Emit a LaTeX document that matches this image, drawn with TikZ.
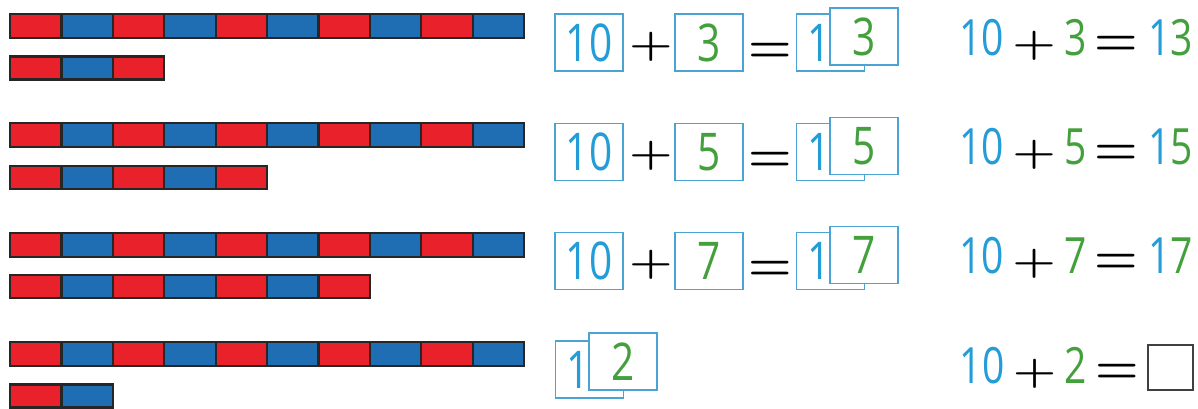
\documentclass[tikz,border=0pt]{standalone}
\usepackage[no-math]{fontspec}
\setmainfont{Open Sans}[FakeStretch=0.78]
\usetikzlibrary{positioning}
\definecolor{cubered}{HTML}{E8212B}
\definecolor{cubeblue}{HTML}{1F6EB4}
\definecolor{digitblue}{HTML}{239CD8}
\definecolor{digitgreen}{HTML}{43A03C}
\definecolor{boxline}{HTML}{4AA3D3}
\newcommand\tendigit[1]{\textcolor{digitblue}{#1}}
\newcommand\onedigit[1]{\textcolor{digitgreen}{#1}}
\newcommand\plusop{\scalebox{1}[0.78]{\boldmath$+$}}
\newcommand\eqop{{\boldmath$=$}}
\tikzset{
  cube/.style={draw=black!85, line width=1.1pt},
  odd1/.style={fill=cubered}, odd0/.style={fill=cubeblue},
  numbox/.style={draw=boxline, line width=0.7pt, fill=white, inner sep=0pt,
    minimum width=34pt, minimum height=28.5pt, font=\fontsize{26}{26}\selectfont},
  sign/.style={inner sep=0pt, anchor=base, font=\fontsize{25}{25}\selectfont},
  sum/.style={inner sep=0pt, anchor=base east, font=\fontsize{25}{25}\selectfont}
}
\begin{document}
\begin{tikzpicture}[x=0.5pt,y=-0.5pt]
\useasboundingbox (0,0) rectangle (1198,408);
% rods of ten and the loose cubes under them
\foreach \r/\n in {0/3,1/5,2/7,3/2}{
  \pgfmathsetmacro\y{14+109.3*\r}
  \foreach \k [evaluate=\k as \m using {int(mod(\k,2))}] in {1,...,10}
    \draw[cube,odd\m] ({10+51.4*(\k-1)},\y) rectangle ++(51.4,24);
  \foreach \k [evaluate=\k as \m using {int(mod(\k,2))}] in {1,...,\n}
    \draw[cube,odd\m] ({10+51.4*(\k-1)},\y+42.5) rectangle ++(51.4,23);
}
% card sums
\foreach \r/\n in {0/3,1/5,2/7}{
  \pgfmathsetmacro\y{14+109.3*\r}
  \node[numbox] (ten\r) at (589,\y+28.5) {\tendigit{10}};
  \node[sign] (plus\r) at (651,\y+42) {\plusop};
  \node[numbox] (ones\r) at (709,\y+28.5) {\onedigit{\n}};
  \node[sign] (eq\r) at (770,\y+48) {\eqop};
  \node[numbox] (back\r) at (830.5,\y+28.5) {\tendigit{1}\phantom{0}};
  \node[numbox, xshift=16.75pt, yshift=3pt] (front\r) at (back\r) {\onedigit{\n}};
  \node[sum] (sum\r) at (1193,\y+41) {\tendigit{10}\,\plusop\,\onedigit{\n}\hspace{4pt}\eqop\hspace{5pt}\tendigit{1}\onedigit{\n}};
}
% last row: left open
\node[numbox] (back3) at (589.5,369.4) {\tendigit{1}\phantom{0}};
\node[numbox, xshift=16.75pt, yshift=4pt] (front3) at (back3) {\onedigit{2}};
\node[draw=black!75, line width=0.8pt, minimum size=22.5pt, inner sep=0pt] (answer) at (1170.5,367.5) {};
\node[sum] (sum3) at (1139,383) {\tendigit{10}\,\plusop\,\onedigit{2}\hspace{4pt}\eqop};
\end{tikzpicture}
\end{document}
